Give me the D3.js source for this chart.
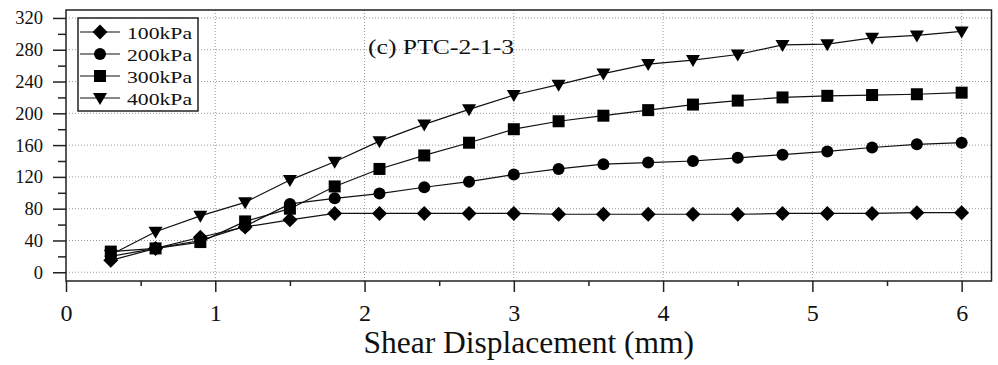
<!DOCTYPE html>
<html><head><meta charset="utf-8">
<script src="https://cdn.jsdelivr.net/npm/d3@7"></script>
<style>html,body{margin:0;padding:0;background:#fff;}svg{display:block;}</style>
</head><body><svg id="c" width="998" height="365"></svg>
<script>
const xValues = [0.3,0.6,0.9,1.2,1.5,1.8,2.1,2.4,2.7,3.0,3.3,3.6,3.9,4.2,4.5,4.8,5.1,5.4,5.7,6.0];
const s100 = [15,30,44,57,66,74,74,74,74,74,73,73,73,73,73,74,74,74,75,75];
const s200 = [20,30,40,58,86,93,99,107,114,123,130,136,138,140,144,148,152,157,161,163];
const s300 = [26,30,38,64,80,108,130,147,163,180,190,197,204,211,216,220,222,223,224,226];
const s400 = [22,51,71,88,116,139,165,186,205,223,236,250,262,267,274,286,287,295,298,303];
const seriesNames = ["100kPa","200kPa","300kPa","400kPa"];
const seriesShapes = ["diamond","circle","square","triangle"];
const xTicks = [0,1,2,3,4,5,6];
const yTicks = [0,40,80,120,160,200,240,280,320];
const annotation = "(c) PTC-2-1-3";
const xTitle = "Shear Displacement (mm)";

const allSeries = [s100,s200,s300,s400];
const svg = d3.select("#c");
const L=66, R=991.5, T=10, B=281;
const x = d3.scaleLinear().domain([0,6.2]).range([L,R]);
const y = d3.scaleLinear().domain([-11,330]).range([B,T]);
const font = "'Liberation Serif','Times New Roman',serif";

// grid
const g = svg.append("g");
g.selectAll(".gx").data(xTicks.filter(d=>d>0)).enter().append("line")
 .attr("x1",d=>x(d)).attr("x2",d=>x(d)).attr("y1",T).attr("y2",B)
 .attr("stroke","#999").attr("stroke-width",1).attr("stroke-dasharray","1,2");
g.selectAll(".gy").data(yTicks).enter().append("line")
 .attr("x1",L).attr("x2",R).attr("y1",d=>y(d)).attr("y2",d=>y(d))
 .attr("stroke","#999").attr("stroke-width",1).attr("stroke-dasharray","1,2");

// frame
svg.append("rect").attr("x",L).attr("y",T).attr("width",R-L).attr("height",B-T)
 .attr("fill","none").attr("stroke","#222").attr("stroke-width",1.5);

// axes
const yAxis = d3.axisLeft(y).tickValues(yTicks).tickSize(13).tickPadding(10).tickFormat(d3.format("d"));
const yMinor = d3.axisLeft(y).tickValues(d3.range(20,330,40)).tickSize(8).tickFormat("");
const xAxis = d3.axisBottom(x).tickValues(xTicks).tickSize(11).tickPadding(12).tickFormat(d3.format("d"));
const xMinor = d3.axisBottom(x).tickValues(d3.range(0.5,6.2,1)).tickSize(5).tickFormat("");
function style(sel, fs){
  sel.select(".domain").remove();
  sel.selectAll(".tick line").attr("stroke","#222").attr("stroke-width",1.5);
  sel.selectAll("text").attr("font-family",font).attr("font-size",fs).attr("fill","#111");
}
svg.append("g").attr("transform",`translate(${L},0)`).call(yAxis).call(s=>style(s,18.5));
svg.append("g").attr("transform",`translate(${L},0)`).call(yMinor).call(s=>style(s,18.5));
svg.append("g").attr("transform",`translate(0,${B})`).call(xAxis).call(s=>style(s,24));
svg.append("g").attr("transform",`translate(0,${B})`).call(xMinor).call(s=>style(s,24));

svg.append("text").attr("x",(L+R)/2).attr("y",353).attr("text-anchor","middle")
 .attr("font-family",font).attr("font-size",31.5).attr("fill","#111").text(xTitle);

svg.append("text").attr("x",368).attr("y",53.5).attr("font-family",font).attr("font-size",20)
 .attr("textLength",146).attr("lengthAdjust","spacingAndGlyphs")
 .attr("fill","#111").text(annotation);

function shapePath(s){
  if(s==="diamond") return "M0,-7.5L7.5,0L0,7.5L-7.5,0Z";
  if(s==="circle") return "M6,0A6,6 0 1,1 -6,0A6,6 0 1,1 6,0Z";
  if(s==="square") return "M-6,-6H6V6H-6Z";
  return "M-7,-5H7L0,7Z";
}

const line = d3.line().x((d,i)=>x(xValues[i])).y(d=>y(d));
allSeries.forEach((s,k)=>{
  svg.append("path").attr("d",line(s)).attr("fill","none").attr("stroke","#111").attr("stroke-width",1.2);
});
allSeries.forEach((s,k)=>{
  svg.append("g").selectAll("path").data(s).enter().append("path")
   .attr("transform",(d,i)=>`translate(${x(xValues[i])},${y(d)})`)
   .attr("d",shapePath(seriesShapes[k])).attr("fill","#000");
});

// legend
const lg = svg.append("g");
lg.append("rect").attr("x",78).attr("y",18).attr("width",120).attr("height",93)
 .attr("fill","#fff").attr("stroke","#222").attr("stroke-width",1.5);
seriesNames.forEach((n,k)=>{
  const yy = 32 + k*22;
  lg.append("line").attr("x1",80).attr("x2",120).attr("y1",yy).attr("y2",yy).attr("stroke","#111").attr("stroke-width",1.2);
  lg.append("path").attr("transform",`translate(100,${yy})`).attr("d",shapePath(seriesShapes[k])).attr("fill","#000");
  lg.append("text").attr("x",127).attr("y",yy+7).attr("font-family",font).attr("font-size",17.5)
   .attr("textLength",65).attr("lengthAdjust","spacingAndGlyphs").attr("fill","#111").text(n);
});
</script></body></html>
